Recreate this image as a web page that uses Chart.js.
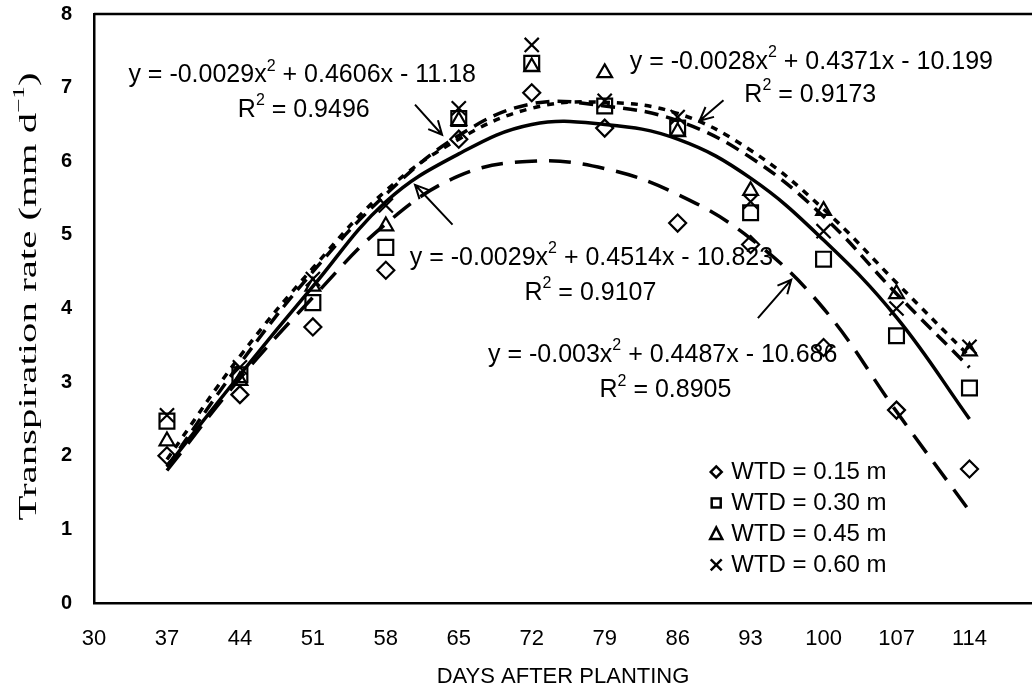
<!DOCTYPE html>
<html>
<head>
<meta charset="utf-8">
<script src="https://cdn.jsdelivr.net/npm/chart.js@4.4.1/dist/chart.umd.min.js"></script>
<style>
    html, body { margin: 0; padding: 0; background: #ffffff; }
    #wrap { width: 1032px; height: 694px; }
</style>
</head>
<body>
<div id="wrap"><canvas id="transpiration-chart" width="1032" height="694"></canvas></div>
<script>
// sampling days (x) and axis ticks
const days = [37, 44, 51, 58, 65, 72, 79, 86, 93, 100, 107, 114];
const xTickValues = [30, 37, 44, 51, 58, 65, 72, 79, 86, 93, 100, 107, 114];
const yTickValues = [0, 1, 2, 3, 4, 5, 6, 7, 8];

const wtd015 = [2.0, 2.83, 3.75, 4.52, 6.3, 6.93, 6.45, 5.16, 4.87, 3.47, 2.62, 1.82];
const wtd030 = [2.47, 3.1, 4.08, 4.83, 6.58, 7.33, 6.75, 6.45, 5.3, 4.67, 3.63, 2.92];
const wtd045 = [2.2, 3.02, 4.3, 5.12, 6.55, 7.28, 7.2, 6.4, 5.6, 5.33, 4.2, 3.42];
const wtd060 = [2.55, 3.2, 4.4, 5.4, 6.72, 7.58, 6.82, 6.6, 5.45, 5.05, 4.0, 3.48];

// fitted trend curves at the same days
const fit015 = [1.8, 3.05, 4.15, 5.15, 5.8, 6.0, 5.9, 5.55, 4.95, 4.0, 2.6, 1.25];
const fit030 = [1.85, 3.1, 4.3, 5.45, 6.1, 6.5, 6.5, 6.3, 5.77, 4.93, 3.88, 2.5];
const fit045 = [1.95, 3.35, 4.55, 5.6, 6.3, 6.72, 6.8, 6.65, 6.15, 5.35, 4.35, 3.35];
const fit060 = [1.85, 3.25, 4.5, 5.55, 6.35, 6.78, 6.75, 6.55, 6.05, 5.25, 4.2, 3.2];

const seriesNames = ["WTD = 0.15 m", "WTD = 0.30 m", "WTD = 0.45 m", "WTD = 0.60 m"];
const equationTexts = [
    "y = -0.0029x^2 + 0.4606x - 11.18",
    "y = -0.0028x^2 + 0.4371x - 10.199",
    "y = -0.0029x^2 + 0.4514x - 10.823",
    "y = -0.003x^2 + 0.4487x - 10.686"
];
const r2Texts = ["R^2 = 0.9496", "R^2 = 0.9173", "R^2 = 0.9107", "R^2 = 0.8905"];

(() => {
    const ink = "#000000";
    const sans = "\"Liberation Sans\", Arial, sans-serif";
    const serif = "\"Liberation Serif\", \"Times New Roman\", serif";

    // where the labels sit, in axis units (day, rate)
    const eqPlaces = [
        { eq: [33.3, 7.17], r2: [43.8, 6.70] },
        { eq: [81.4, 7.35], r2: [92.4, 6.90] },
        { eq: [60.3, 4.69], r2: [71.3, 4.21] },
        { eq: [67.8, 3.37], r2: [78.5, 2.89] }
    ];
    const arrows = [
        { from: [60.8, 6.77], to: [63.4, 6.36] },
        { from: [90.4, 6.83], to: [88.1, 6.55] },
        { from: [64.4, 5.14], to: [60.8, 5.68] },
        { from: [93.7, 3.87], to: [96.9, 4.39] }
    ];
    const legendPlace = { x: 89.7, y: 1.78, rowGap: 31 };

    const toPoints = (values) => values.map((v, i) => ({ x: days[i], y: v }));

    const scatterSet = (label, values, style, radius) => ({
        type: "scatter",
        label,
        data: toPoints(values),
        pointStyle: style,
        pointRadius: radius,
        pointBorderWidth: 2.2,
        pointBorderColor: ink,
        pointBackgroundColor: "rgba(0,0,0,0)",
        showLine: false
    });

    const curveSet = (label, values, dash) => ({
        type: "line",
        label,
        data: toPoints(values),
        borderColor: ink,
        borderWidth: 3.5,
        borderDash: dash,
        pointRadius: 0,
        tension: 0.4,
        fill: false
    });

    const splitSup = (text) => text.split(/\^(\d)/).map((t, i) => [t, i % 2 === 1]);

    const drawRich = (ctx, text, x, y, size, family, align) => {
        const parts = splitSup(text);
        const widths = parts.map(([t, sup]) => {
            ctx.font = `${sup ? Math.round(size * 0.62) : size}px ${family}`;
            return ctx.measureText(t).width;
        });
        const total = widths.reduce((a, b) => a + b, 0);
        let cx = align === "center" ? x - total / 2 : x;
        parts.forEach(([t, sup], i) => {
            ctx.font = `${sup ? Math.round(size * 0.62) : size}px ${family}`;
            ctx.fillText(t, cx, sup ? y - size * 0.36 : y);
            cx += widths[i];
        });
        return total;
    };

    const drawArrow = (ctx, x1, y1, x2, y2) => {
        const ang = Math.atan2(y2 - y1, x2 - x1);
        const head = 15;
        ctx.beginPath();
        ctx.moveTo(x1, y1);
        ctx.lineTo(x2, y2);
        ctx.moveTo(x2 - head * Math.cos(ang - 0.45), y2 - head * Math.sin(ang - 0.45));
        ctx.lineTo(x2, y2);
        ctx.lineTo(x2 - head * Math.cos(ang + 0.45), y2 - head * Math.sin(ang + 0.45));
        ctx.stroke();
    };

    const legendMarks = [
        (ctx, x, y) => { ctx.beginPath(); ctx.moveTo(x, y - 5.5); ctx.lineTo(x + 5.5, y); ctx.lineTo(x, y + 5.5); ctx.lineTo(x - 5.5, y); ctx.closePath(); ctx.stroke(); },
        (ctx, x, y) => { ctx.strokeRect(x - 4.5, y - 4.5, 9, 9); },
        (ctx, x, y) => { ctx.beginPath(); ctx.moveTo(x, y - 6.5); ctx.lineTo(x + 6, y + 5); ctx.lineTo(x - 6, y + 5); ctx.closePath(); ctx.stroke(); },
        (ctx, x, y) => { ctx.beginPath(); ctx.moveTo(x - 5.5, y - 5.5); ctx.lineTo(x + 5.5, y + 5.5); ctx.moveTo(x + 5.5, y - 5.5); ctx.lineTo(x - 5.5, y + 5.5); ctx.stroke(); }
    ];

    const extras = {
        id: "extras",
        afterDraw(chart) {
            const { ctx, chartArea } = chart;
            const xs = chart.scales.x;
            const ys = chart.scales.y;
            const px = (d) => xs.getPixelForValue(d);
            const py = (v) => ys.getPixelForValue(v);

            ctx.save();
            ctx.fillStyle = ink;
            ctx.strokeStyle = ink;
            ctx.textBaseline = "middle";

            // top frame line
            ctx.lineWidth = 2.5;
            ctx.beginPath();
            ctx.moveTo(chartArea.left, chartArea.top);
            ctx.lineTo(chart.width, chartArea.top);
            ctx.stroke();

            // equations and R2
            equationTexts.forEach((text, i) => {
                const place = eqPlaces[i];
                drawRich(ctx, text, px(place.eq[0]), py(place.eq[1]), 25, sans, "left");
                drawRich(ctx, r2Texts[i], px(place.r2[0]), py(place.r2[1]), 25, sans, "left");
            });

            // arrows
            ctx.lineWidth = 2;
            arrows.forEach((a) => drawArrow(ctx, px(a.from[0]), py(a.from[1]), px(a.to[0]), py(a.to[1])));

            // legend
            const lx = px(legendPlace.x);
            const ly = py(legendPlace.y);
            seriesNames.forEach((name, i) => {
                const y = ly + i * legendPlace.rowGap;
                ctx.lineWidth = 2.5;
                legendMarks[i](ctx, lx, y);
                drawRich(ctx, name, lx + 15, y, 24, sans, "left");
            });

            // y axis title, stretched along its length like the scan
            ctx.translate(29, (chartArea.top + chartArea.bottom) / 2 - 12);
            ctx.rotate(-Math.PI / 2);
            ctx.font = `26px ${serif}`;
            const main = "Transpiration rate (mm d";
            const wMain = ctx.measureText(main).width;
            ctx.font = `16px ${serif}`;
            const wSup = ctx.measureText("\u22121").width;
            ctx.font = `26px ${serif}`;
            const wEnd = ctx.measureText(")").width;
            const total = wMain + wSup + wEnd;
            ctx.scale(448 / total, 1);
            let cx = -total / 2;
            ctx.fillText(main, cx, 0);
            cx += wMain;
            ctx.font = `16px ${serif}`;
            ctx.fillText("\u22121", cx, -9);
            cx += wSup;
            ctx.font = `26px ${serif}`;
            ctx.fillText(")", cx, 0);

            ctx.restore();
        }
    };

    new Chart(document.getElementById("transpiration-chart"), {
        data: {
            datasets: [
                scatterSet(seriesNames[0], wtd015, "rectRot", 8.5),
                scatterSet(seriesNames[1], wtd030, "rect", 10.5),
                scatterSet(seriesNames[2], wtd045, "triangle", 8.5),
                scatterSet(seriesNames[3], wtd060, "crossRot", 10),
                curveSet("Fit 0.15 m", fit015, [22, 12]),
                curveSet("Fit 0.30 m", fit030, []),
                curveSet("Fit 0.45 m", fit045, [7, 7]),
                curveSet("Fit 0.60 m", fit060, [14, 8])
            ]
        },
        options: {
            responsive: false,
            animation: false,
            devicePixelRatio: 1,
            layout: { autoPadding: false, padding: { top: 14, right: 0, bottom: 0, left: 0 } },
            plugins: {
                legend: { display: false },
                tooltip: { enabled: false }
            },
            scales: {
                x: {
                    type: "linear",
                    min: 30,
                    max: 120,
                    afterBuildTicks: (scale) => { scale.ticks = xTickValues.map((v) => ({ value: v })); },
                    afterFit: (scale) => {
                        scale.height = 91;
                        scale.paddingLeft = 0;
                        scale.paddingRight = 0;
                    },
                    grid: { display: false, drawTicks: false },
                    border: { display: true, color: ink, width: 2.5 },
                    ticks: { color: ink, padding: 23, font: { family: sans, size: 22 } },
                    title: {
                        display: true,
                        text: "DAYS AFTER PLANTING",
                        color: ink,
                        font: { family: sans, size: 22 },
                        padding: { top: 0, bottom: 4 }
                    }
                },
                y: {
                    min: 0,
                    max: 8,
                    afterBuildTicks: (scale) => { scale.ticks = yTickValues.map((v) => ({ value: v })); },
                    afterFit: (scale) => {
                        scale.width = 94;
                        scale.paddingTop = 0;
                        scale.paddingBottom = 0;
                    },
                    grid: { display: false, drawTicks: false },
                    border: { display: true, color: ink, width: 2.5 },
                    ticks: { color: ink, padding: 22, font: { family: sans, size: 20, weight: "bold" } }
                }
            }
        },
        plugins: [extras]
    });
})();
</script>
</body>
</html>
